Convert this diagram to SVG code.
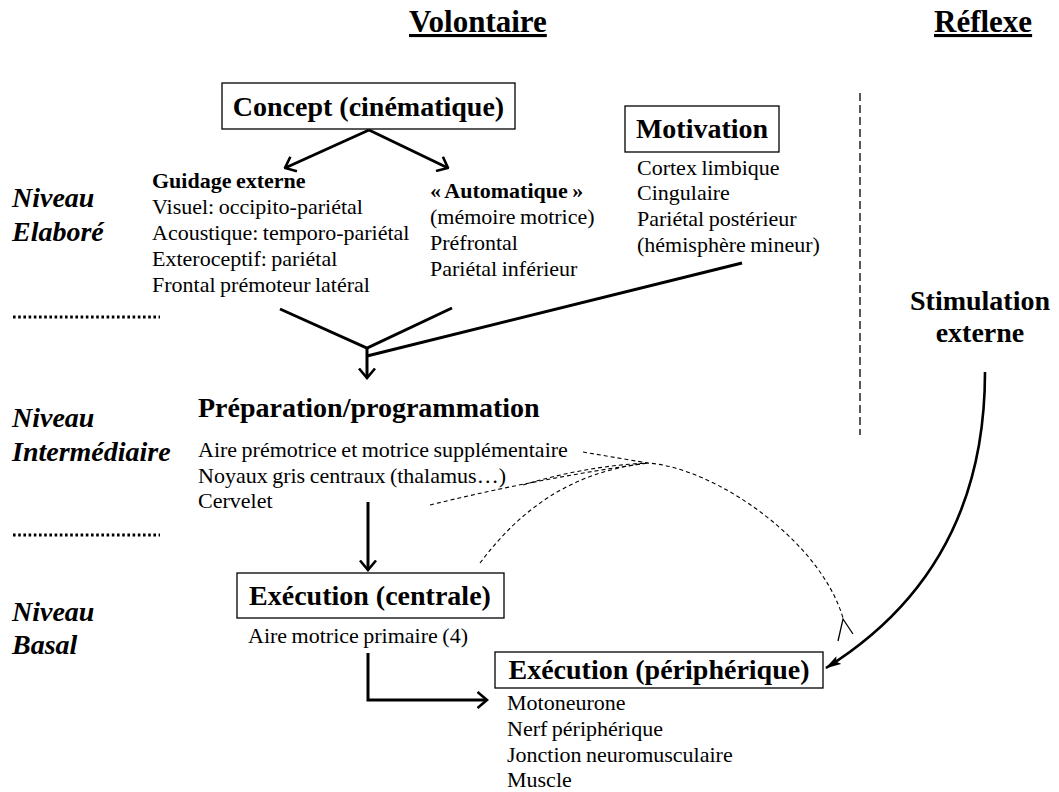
<svg xmlns="http://www.w3.org/2000/svg" width="1059" height="792" viewBox="0 0 1059 792">
<style>
text{font-family:"Liberation Serif","Times New Roman",serif;fill:#000}
.title{font-size:31px;font-weight:bold;text-decoration:underline}
.head{font-size:28px;font-weight:bold}
.lvl{font-size:28px;font-weight:bold;font-style:italic}
.body{font-size:22px;word-spacing:-1px}
.bold{font-weight:bold}
.box{fill:#fff;stroke:#000;stroke-width:1.3}
.arr{fill:none;stroke:#000;stroke-width:3}
.dash{fill:none;stroke:#000;stroke-width:1.1;stroke-dasharray:4 3}
</style>
<defs>
<marker id="chev" viewBox="0 0 12 18" refX="10.5" refY="9" markerWidth="12" markerHeight="18" markerUnits="userSpaceOnUse" orient="auto">
<path d="M1,1 L10.5,9 L1,17" fill="none" stroke="#000" stroke-width="2.6"/>
</marker>
<marker id="tri" viewBox="0 0 16 10" refX="15" refY="5" markerWidth="16" markerHeight="10" markerUnits="userSpaceOnUse" orient="auto">
<path d="M0,0.5 L16,5 L0,9.5 L3,5 z" fill="#000"/>
</marker>
</defs>

<g id="titles">
<text class="title" x="409" y="32">Volontaire</text>
<text class="title" x="934" y="32">Réflexe</text>
</g>

<g id="levels">
<text class="lvl" x="12" y="207">Niveau</text>
<text class="lvl" x="12" y="241">Elaboré</text>
<text class="lvl" x="12" y="427">Niveau</text>
<text class="lvl" x="12" y="461">Intermédiaire</text>
<text class="lvl" x="12" y="621">Niveau</text>
<text class="lvl" x="12" y="654">Basal</text>
<line x1="13" y1="317" x2="160" y2="317" stroke="#000" stroke-width="3" stroke-dasharray="2.6 2.6"/>
<line x1="13" y1="535" x2="160" y2="535" stroke="#000" stroke-width="3" stroke-dasharray="2.6 2.6"/>
<line x1="860" y1="93" x2="860" y2="435" stroke="#000" stroke-width="1.3" stroke-dasharray="8 4"/>
</g>

<g id="concept">
<rect class="box" x="222" y="83" width="293" height="46"/>
<text class="head" x="368.5" y="116" text-anchor="middle">Concept (cinématique)</text>
</g>

<g id="guidage">
<text class="body bold" x="152" y="188">Guidage externe</text>
<text class="body" x="152" y="214">Visuel: occipito-pariétal</text>
<text class="body" x="152" y="240">Acoustique: temporo-pariétal</text>
<text class="body" x="152" y="266">Exteroceptif: pariétal</text>
<text class="body" x="152" y="292">Frontal prémoteur latéral</text>
</g>

<g id="automatique">
<text class="body bold" x="430" y="198">« Automatique »</text>
<text class="body" x="430" y="224">(mémoire motrice)</text>
<text class="body" x="430" y="250">Préfrontal</text>
<text class="body" x="430" y="276">Pariétal inférieur</text>
</g>

<g id="motivation">
<rect class="box" x="625" y="106" width="154" height="46"/>
<text class="head" x="702" y="138" text-anchor="middle">Motivation</text>
<text class="body" x="637" y="175">Cortex limbique</text>
<text class="body" x="637" y="200">Cingulaire</text>
<text class="body" x="637" y="226">Pariétal postérieur</text>
<text class="body" x="637" y="252">(hémisphère mineur)</text>
</g>

<g id="preparation">
<text class="head" x="198" y="417">Préparation/programmation</text>
<text class="body" x="198" y="457">Aire prémotrice et motrice supplémentaire</text>
<text class="body" x="198" y="483">Noyaux gris centraux (thalamus…)</text>
<text class="body" x="198" y="508">Cervelet</text>
</g>

<g id="execution-centrale">
<rect class="box" x="237" y="573" width="267" height="45"/>
<text class="head" x="370" y="605" text-anchor="middle">Exécution (centrale)</text>
<text class="body" x="248" y="643">Aire motrice primaire (4)</text>
</g>

<g id="execution-peripherique">
<rect class="box" x="495" y="652" width="328" height="36"/>
<text class="head" x="659" y="679" text-anchor="middle">Exécution (périphérique)</text>
<text class="body" x="507" y="710">Motoneurone</text>
<text class="body" x="507" y="736">Nerf périphérique</text>
<text class="body" x="507" y="762">Jonction neuromusculaire</text>
<text class="body" x="507" y="787">Muscle</text>
</g>

<g id="stimulation">
<text class="head" x="980" y="310" text-anchor="middle">Stimulation</text>
<text class="head" x="980" y="342" text-anchor="middle">externe</text>
</g>

<g id="connectors">
<line class="arr" x1="369" y1="130" x2="285" y2="168" marker-end="url(#chev)"/>
<line class="arr" x1="369" y1="130" x2="448" y2="168" marker-end="url(#chev)"/>
<polyline class="arr" points="280,309 367,348 452,308"/>
<line class="arr" x1="742" y1="263" x2="367" y2="356"/>
<line class="arr" x1="367" y1="347" x2="367" y2="378" marker-end="url(#chev)"/>
<line class="arr" x1="368" y1="502" x2="368" y2="570" marker-end="url(#chev)"/>
<path class="arr" d="M368,653 V700 H487" marker-end="url(#chev)"/>
<path fill="none" stroke="#000" stroke-width="2.6" d="M985,372 C985,500 935,600 826,668" marker-end="url(#tri)"/>
<path class="dash" d="M583,452 L648,463 C715,468 820,540 843,618"/>
<path class="dash" d="M523,485 Q585,466 648,463"/>
<path class="dash" d="M430,505 Q540,478 648,463"/>
<path class="dash" d="M480,563 C520,510 570,472 648,463"/>
<polyline fill="none" stroke="#000" stroke-width="1.3" points="838,641 843,619 853,634"/>
</g>
</svg>
